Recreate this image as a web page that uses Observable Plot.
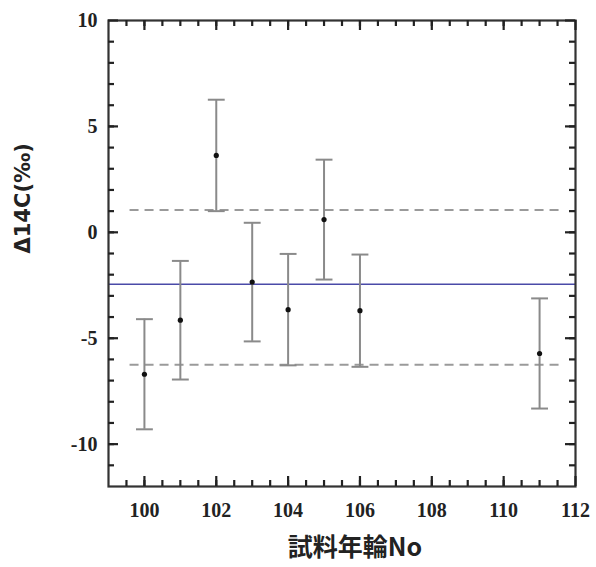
<!DOCTYPE html>
<html>
<head>
<meta charset="utf-8">
<script src="https://cdn.jsdelivr.net/npm/d3@7"></script>
<script src="https://cdn.jsdelivr.net/npm/@observablehq/plot@0.6"></script>
<style>
  html, body { margin: 0; padding: 0; background: #fff; color: #222; }
</style>
</head>
<body>
<div id="chart"></div>
<script>
// Data
const ringNo   = [100, 101, 102, 103, 104, 105, 106, 111];
const delta14C = [-6.7, -4.15, 3.63, -2.35, -3.65, 0.6, -3.7, -5.72];
const errors   = [2.6, 2.8, 2.63, 2.8, 2.63, 2.83, 2.65, 2.6];
const meanValue = -2.45;
const bandUpper = 1.05;
const bandLower = -6.25;

const xMajor = [100, 102, 104, 106, 108, 110, 112];
const xMinor = d3.range(99.5, 112, 0.5);
const yMajor = [-10, -5, 0, 5, 10];
const yMinor = d3.range(-11, 10, 1);

const xLabel = "試料年輪No";
const yLabel = "Δ14C(‰)";

const data = ringNo.map((x, i) => ({x, y: delta14C[i], e: errors[i]}));
const capHalf = 0.235;

const W = 596, H = 567, ML = 108, MR = 21, MT = 20, MB = 81;
const FW = W - ML - MR, FH = H - MT - MB;
const MAJ = 10, MIN = 6;

const tickFont = {fontSize: 20, fontWeight: "bold", fontFamily: "'Liberation Serif', serif", tickFormat: d => String(d)};
const tkStyle = {stroke: "#222", strokeWidth: 2.2};

const chart = Plot.plot({
  width: W,
  height: H,
  marginLeft: ML,
  marginRight: MR,
  marginTop: MT,
  marginBottom: MB,
  x: {domain: [99, 112]},
  y: {domain: [-12, 10]},
  marks: [
    // reference lines
    Plot.ruleY([meanValue], {stroke: "#4a4aa8", strokeWidth: 1.6}),
    Plot.ruleY([bandUpper, bandLower], {x1: 99.6, x2: 111.55, stroke: "#9a9a9a", strokeWidth: 2, strokeDasharray: "9,6"}),
    // error bars
    Plot.ruleX(data, {x: "x", y1: d => d.y - d.e, y2: d => d.y + d.e, stroke: "#8a8a8a", strokeWidth: 2}),
    Plot.link(data, {x1: d => d.x - capHalf, x2: d => d.x + capHalf, y1: d => d.y + d.e, y2: d => d.y + d.e, stroke: "#8a8a8a", strokeWidth: 2}),
    Plot.link(data, {x1: d => d.x - capHalf, x2: d => d.x + capHalf, y1: d => d.y - d.e, y2: d => d.y - d.e, stroke: "#8a8a8a", strokeWidth: 2}),
    Plot.dot(data, {x: "x", y: "y", r: 2.6, fill: "#111"}),
    // frame
    Plot.frame({stroke: "#333", strokeWidth: 2.2}),
    // inward ticks on all four sides (major and minor)
    Plot.ruleX(xMajor, {x: d => d, insetTop: FH - MAJ, ...tkStyle}),
    Plot.ruleX(xMajor, {x: d => d, insetBottom: FH - MAJ, ...tkStyle}),
    Plot.ruleX(xMinor, {x: d => d, insetTop: FH - MIN, ...tkStyle}),
    Plot.ruleX(xMinor, {x: d => d, insetBottom: FH - MIN, ...tkStyle}),
    Plot.ruleY(yMajor, {y: d => d, insetRight: FW - MAJ, ...tkStyle}),
    Plot.ruleY(yMajor, {y: d => d, insetLeft: FW - MAJ, ...tkStyle}),
    Plot.ruleY(yMinor, {y: d => d, insetRight: FW - MIN, ...tkStyle}),
    Plot.ruleY(yMinor, {y: d => d, insetLeft: FW - MIN, ...tkStyle}),
    // tick labels
    Plot.axisY({ticks: yMajor, tickSize: 0, tickPadding: 11, label: null, ...tickFont}),
    Plot.axisX({ticks: xMajor, tickSize: 0, tickPadding: 16, label: null, ...tickFont}),
    // axis titles
    Plot.text([yLabel], {text: d => d, frameAnchor: "left", dx: -85, rotate: -90, fontSize: 21, fontWeight: "bold", fontFamily: "'DejaVu Sans', sans-serif", letterSpacing: "2px", fill: "#222"}),
    Plot.text([xLabel], {text: d => d, frameAnchor: "bottom", dy: 69, dx: 13, fontSize: 25, fontWeight: "bold", fontFamily: "'Noto Sans CJK JP', sans-serif", letterSpacing: "2px", fill: "#222"})
  ]
});
document.getElementById("chart").appendChild(chart);
</script>
</body>
</html>
